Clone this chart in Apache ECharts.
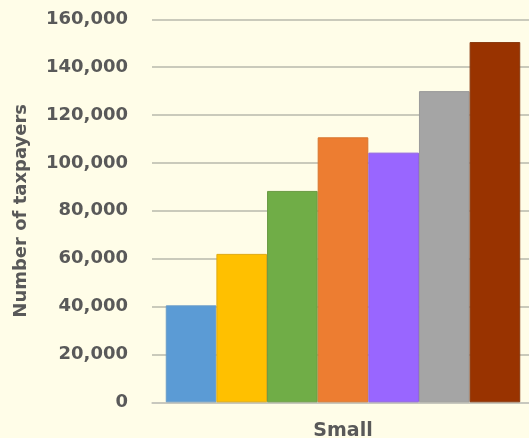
<!DOCTYPE html>
<html>
<head>
<meta charset="utf-8">
<script src="https://cdn.jsdelivr.net/npm/echarts@6/dist/echarts.min.js"></script>
<style>
html,body{margin:0;padding:0;background:#FFFDE8;overflow:hidden;}
#c{width:529px;height:438px;}
</style>
</head>
<body>
<div id="c"></div>
<script>
const categories = ['Small'];
const seriesNames = ['S1','S2','S3','S4','S5','S6','S7'];
const seriesValues = [40500, 62000, 88300, 110700, 104300, 130000, 150500];
const seriesColors = ['#5B9BD5','#FFC000','#70AD47','#ED7D31','#9966FF','#A5A5A5','#993300'];
const seriesBorders = ['#6A9CC8','#E0AA10','#6A9A45','#D8752F','#8E62E0','#9A9A9A','#8A3A10'];
const yTicks = [0, 20000, 40000, 60000, 80000, 100000, 120000, 140000, 160000];

const chart = echarts.init(document.getElementById('c'), null, {renderer:'canvas'});
const font = '"DejaVu Sans", sans-serif';
chart.setOption({
  backgroundColor: '#FFFDE8',
  animation: false,
  grid: {left: 152, width: 382, top: 19.3, height: 383, containLabel: false, outerBoundsMode: 'none'},
  xAxis: {
    type: 'category',
    data: categories,
    axisLine: {show: true, lineStyle: {color: '#C8C8C0', width: 1.5}},
    axisTick: {show: false},
    axisLabel: {color: '#595959', fontFamily: font, fontWeight: 'bold', fontSize: 19, margin: 19}
  },
  yAxis: {
    type: 'value',
    min: yTicks[0],
    max: yTicks[yTicks.length-1],
    interval: yTicks[1]-yTicks[0],
    name: 'Number of taxpayers',
    nameLocation: 'middle',
    nameRotate: 90,
    nameGap: 122,
    nameTextStyle: {color: '#595959', fontFamily: font, fontWeight: 'bold', fontSize: 18},
    axisLine: {show: false},
    axisTick: {show: false},
    splitLine: {lineStyle: {color: '#B8B8AC', width: 1.5}},
    axisLabel: {
      color: '#595959', fontFamily: font, fontWeight: 'bold', fontSize: 18, margin: 24,
      formatter: v => v.toLocaleString('en-US')
    }
  },
  series: seriesValues.map((v, i) => ({
    name: seriesNames[i],
    type: 'bar',
    data: [v],
    barGap: '0%',
    barCategoryGap: '7.2%',
    itemStyle: {color: seriesColors[i], borderColor: seriesBorders[i], borderWidth: 1}
  }))
});
</script>
</body>
</html>
